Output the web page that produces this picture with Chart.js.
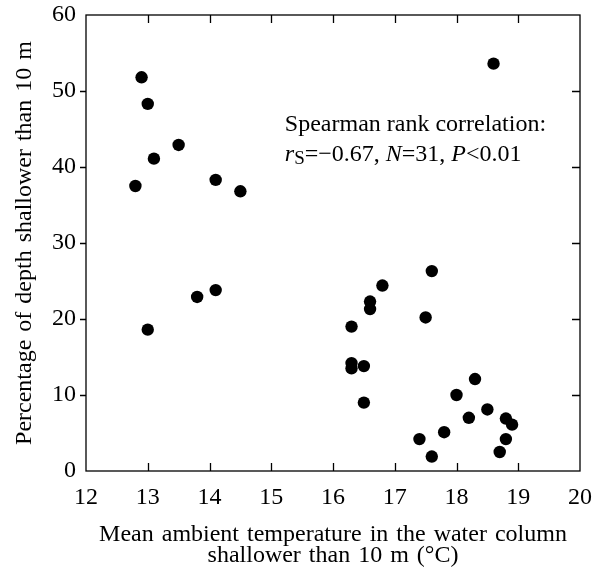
<!DOCTYPE html>
<html><head><meta charset="utf-8">
<script src="https://cdn.jsdelivr.net/npm/chart.js@4/dist/chart.umd.min.js"></script>
<style>html,body{margin:0;padding:0;background:#fff}canvas{display:block}</style>
</head><body>
<canvas id="c" width="603" height="571"></canvas>
<script>
const temperature = [12.9,13.0,13.1,13.5,12.8,14.1,14.5,18.6,17.6,13.0,13.8,14.1,16.8,16.6,16.6,17.5,16.3,16.3,16.3,16.5,16.5,18.3,18.0,18.5,18.2,18.8,18.9,17.8,17.4,18.8,18.7,17.6];
const percentShallow = [51.8,48.3,41.1,42.9,37.5,38.3,36.8,53.6,26.3,18.6,22.9,23.8,24.4,22.3,21.3,20.2,19.0,14.2,13.5,13.8,9.0,12.1,10.0,8.1,7.0,6.9,6.1,5.1,4.2,4.2,2.5,1.9];
const xTicks = [12,13,14,15,16,17,18,19,20];
const yTicks = [0,10,20,30,40,50,60];
const xTitle = ['Mean ambient temperature in the water column','shallower than 10 m (°C)'];
const yTitle = 'Percentage of depth shallower than 10 m';
const statsLine1 = 'Spearman rank correlation:';
const statsLine2 = [
  {t:'r', italic:true},
  {t:'S', sub:true},
  {t:'=\u22120.67, '},
  {t:'N', italic:true},
  {t:'=31, '},
  {t:'P', italic:true},
  {t:'<0.01'}
];
const statsAnchor = {x:15.22, y:44.7};

const FAMILY = "'Liberation Serif','Times New Roman',Times,serif";
const points = temperature.map((t,i)=>({x:t, y:percentShallow[i]}));

const framePlugin = {
  id:'frame',
  beforeDraw(chart){
    try { chart.ctx.wordSpacing = '2px'; } catch(e) {}
  },
  afterDraw(chart){
    const {ctx, chartArea:a, scales:{x,y}} = chart;
    ctx.save();
    try { ctx.wordSpacing = '0px'; } catch(e) {}
    ctx.strokeStyle = '#000';
    ctx.lineWidth = 1.3;
    ctx.strokeRect(a.left, a.top, a.right-a.left, a.bottom-a.top);
    ctx.beginPath();
    xTicks.forEach(v=>{
      if (v===xTicks[0] || v===xTicks[xTicks.length-1]) return;
      const px = Math.round(x.getPixelForValue(v))+0.5;
      ctx.moveTo(px, a.bottom); ctx.lineTo(px, a.bottom-8);
      ctx.moveTo(px, a.top); ctx.lineTo(px, a.top+8);
    });
    yTicks.forEach(v=>{
      if (v===yTicks[0] || v===yTicks[yTicks.length-1]) return;
      const py = Math.round(y.getPixelForValue(v))+0.5;
      ctx.moveTo(a.left-6, py); ctx.lineTo(a.left, py);
      ctx.moveTo(a.right-8, py); ctx.lineTo(a.right, py);
    });
    ctx.stroke();

    // annotation
    ctx.fillStyle = '#000';
    ctx.textBaseline = 'alphabetic';
    ctx.textAlign = 'left';
    const ax = x.getPixelForValue(statsAnchor.x);
    const ay = y.getPixelForValue(statsAnchor.y);
    ctx.font = '24px ' + FAMILY;
    ctx.fillText(statsLine1, ax, ay);
    let cx = ax;
    const ly = ay + 30;
    statsLine2.forEach(p=>{
      let font = '24px ' + FAMILY, dy = 0;
      if (p.italic) font = 'italic 24px ' + FAMILY;
      if (p.sub) { font = '19px ' + FAMILY; dy = 3; }
      ctx.font = font;
      ctx.fillText(p.t, cx, ly + dy);
      cx += ctx.measureText(p.t).width;
    });
    ctx.restore();
  }
};

new Chart(document.getElementById('c'), {
  type:'scatter',
  data:{datasets:[{
    data:points,
    backgroundColor:'#000',
    borderColor:'#000',
    borderWidth:0,
    pointRadius:6.2,
    pointHoverRadius:6.2
  }]},
  options:{
    responsive:false,
    animation:false,
    events:[],
    layout:{padding:{top:15,right:23,left:0,bottom:0}},
    plugins:{legend:{display:false},tooltip:{enabled:false}},
    scales:{
      x:{
        type:'linear', position:'bottom',
        min:xTicks[0], max:xTicks[xTicks.length-1],
        afterBuildTicks(s){ s.ticks = xTicks.map(v=>({value:v})); },
        afterFit(s){ s.height = 100; s.paddingLeft = 0; s.paddingRight = 0; },
        grid:{display:false, drawTicks:false},
        border:{display:false},
        ticks:{autoSkip:false, maxRotation:0, padding:12, color:'#000', font:{family:FAMILY, size:24}},
        title:{display:true, text:xTitle, color:'#000', font:{family:FAMILY, size:24, lineHeight:0.9}, padding:{top:0,bottom:4}}
      },
      y:{
        type:'linear', position:'left',
        min:yTicks[0], max:yTicks[yTicks.length-1],
        afterBuildTicks(s){ s.ticks = yTicks.map(v=>({value:v})); },
        afterFit(s){ s.width = 86; s.paddingTop = 0; s.paddingBottom = 0; },
        grid:{display:false, drawTicks:false},
        border:{display:false},
        ticks:{padding:10, color:'#000', font:{family:FAMILY, size:24}},
        title:{display:true, text:yTitle, color:'#000', font:{family:FAMILY, size:24, lineHeight:1}, padding:{top:13,bottom:0}}
      }
    }
  },
  plugins:[framePlugin]
});
</script>
</body></html>
